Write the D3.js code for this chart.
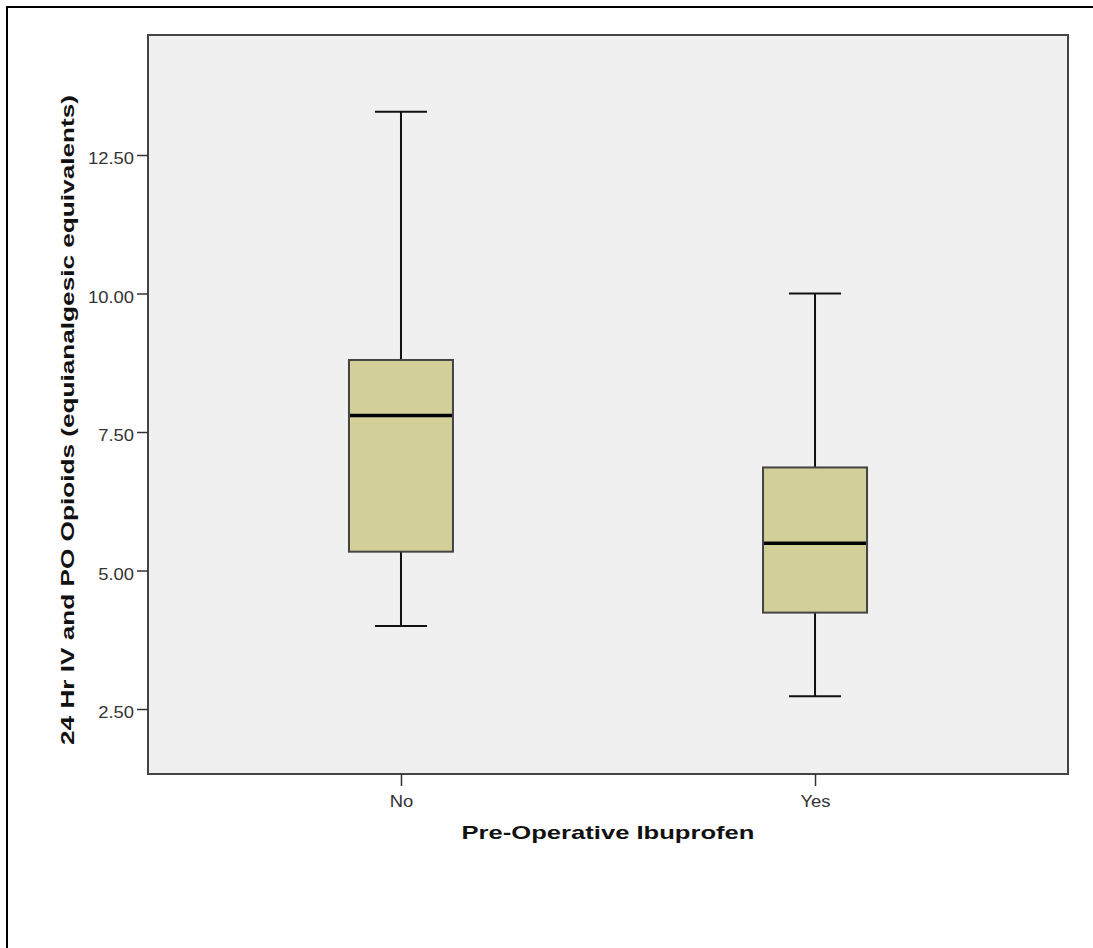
<!DOCTYPE html>
<html>
<head>
<meta charset="utf-8">
<script src="https://cdn.jsdelivr.net/npm/d3@7"></script>
<style>
  body { margin: 0; background: #fff; }
  svg { display: block; }
</style>
</head>
<body>
<svg id="chart" width="1093" height="948"></svg>
<script>
// Box plot summary per group
const groups = ["No", "Yes"];
const whiskerLow = [4.0, 2.73];
const quartile1 = [5.34, 4.24];
const medians = [7.80, 5.49];
const quartile3 = [8.80, 6.86];
const whiskerHigh = [13.28, 10.0];
const yTicks = [2.5, 5.0, 7.5, 10.0, 12.5];

const svg = d3.select("#chart");
const margin = { left: 148, top: 35, right: 1068, bottom: 774 };
const font = "Liberation Sans, Arial, sans-serif";

// the original text is drawn a little wider than Arial
function stretch(sel, factor) {
  sel.each(function () {
    const w = this.getComputedTextLength();
    d3.select(this)
      .attr("textLength", w * factor)
      .attr("lengthAdjust", "spacingAndGlyphs");
  });
}

// outer frame (only top/left edges fall inside the picture)
svg.append("rect")
  .attr("x", 7).attr("y", 7)
  .attr("width", 1100).attr("height", 1000)
  .attr("fill", "#fff")
  .attr("stroke", "#000")
  .attr("stroke-width", 2);

const x = d3.scalePoint()
  .domain(groups)
  .range([margin.left, margin.right])
  .padding(0.611);

const y = d3.scaleLinear()
  .domain([1.327, 14.666])
  .range([margin.bottom, margin.top]);

// plot area
svg.append("rect")
  .attr("x", margin.left).attr("y", margin.top)
  .attr("width", margin.right - margin.left)
  .attr("height", margin.bottom - margin.top)
  .attr("fill", "#f0f0f0")
  .attr("stroke", "#444")
  .attr("stroke-width", 2);

// axes
const yAxis = svg.append("g")
  .attr("transform", `translate(${margin.left},0)`)
  .call(d3.axisLeft(y).tickValues(yTicks).tickFormat(d3.format(".2f")).tickSize(11).tickSizeOuter(0));
yAxis.select(".domain").remove();
yAxis.selectAll(".tick line").attr("stroke", "#333").attr("stroke-width", 1.5);
yAxis.selectAll(".tick text")
  .attr("x", -14)
  .attr("dy", "0.55em")
  .attr("fill", "#333")
  .style("font-family", font)
  .style("font-size", "16px")
  .call(stretch, 1.15);

const xAxis = svg.append("g")
  .attr("transform", `translate(0,${margin.bottom})`)
  .call(d3.axisBottom(x).tickSize(12).tickSizeOuter(0));
xAxis.select(".domain").remove();
xAxis.selectAll(".tick line").attr("stroke", "#333").attr("stroke-width", 1.5);
xAxis.selectAll(".tick text")
  .attr("y", 22)
  .attr("fill", "#333")
  .style("font-family", font)
  .style("font-size", "16px")
  .call(stretch, 1.15);

// boxes
const boxW = 104, capW = 52;
const box = svg.append("g").selectAll("g")
  .data(groups)
  .join("g");

box.append("line")
  .attr("x1", d => x(d)).attr("x2", d => x(d))
  .attr("y1", (d, i) => y(whiskerHigh[i]))
  .attr("y2", (d, i) => y(whiskerLow[i]))
  .attr("stroke", "#111").attr("stroke-width", 2);

box.append("line")
  .attr("x1", d => x(d) - capW / 2).attr("x2", d => x(d) + capW / 2)
  .attr("y1", (d, i) => y(whiskerHigh[i]))
  .attr("y2", (d, i) => y(whiskerHigh[i]))
  .attr("stroke", "#111").attr("stroke-width", 2);

box.append("line")
  .attr("x1", d => x(d) - capW / 2).attr("x2", d => x(d) + capW / 2)
  .attr("y1", (d, i) => y(whiskerLow[i]))
  .attr("y2", (d, i) => y(whiskerLow[i]))
  .attr("stroke", "#111").attr("stroke-width", 2);

box.append("rect")
  .attr("x", d => x(d) - boxW / 2)
  .attr("width", boxW)
  .attr("y", (d, i) => y(quartile3[i]))
  .attr("height", (d, i) => y(quartile1[i]) - y(quartile3[i]))
  .attr("fill", "#d3cf98")
  .attr("stroke", "#444")
  .attr("stroke-width", 2);

box.append("line")
  .attr("x1", d => x(d) - boxW / 2 + 1).attr("x2", d => x(d) + boxW / 2 - 1)
  .attr("y1", (d, i) => y(medians[i]))
  .attr("y2", (d, i) => y(medians[i]))
  .attr("stroke", "#000").attr("stroke-width", 3.5);

// axis titles
svg.append("text")
  .attr("x", 608)
  .attr("y", 839)
  .attr("text-anchor", "middle")
  .attr("fill", "#111")
  .style("font-family", font)
  .style("font-size", "19px")
  .style("font-weight", "bold")
  .text("Pre-Operative Ibuprofen")
  .attr("textLength", 293)
  .attr("lengthAdjust", "spacingAndGlyphs");

svg.append("text")
  .attr("transform", "translate(74,420) rotate(-90)")
  .attr("text-anchor", "middle")
  .attr("fill", "#111")
  .style("font-family", font)
  .style("font-size", "19px")
  .style("font-weight", "bold")
  .text("24 Hr IV and PO Opioids (equianalgesic equivalents)")
  .attr("textLength", 650)
  .attr("lengthAdjust", "spacingAndGlyphs");
</script>
</body>
</html>
